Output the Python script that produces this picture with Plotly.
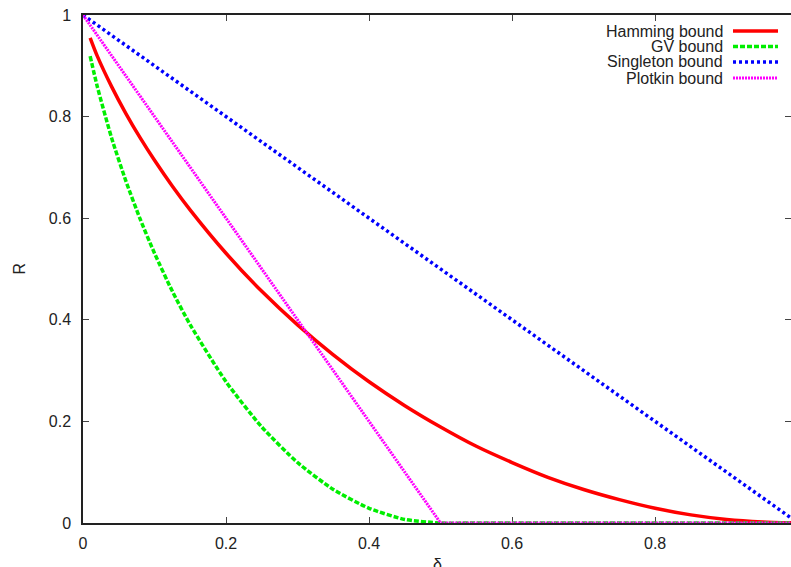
import plotly.graph_objects as go

# ---- data ----
delta = [0.01, 0.02, 0.04, 0.06, 0.08, 0.10, 0.125, 0.15, 0.20, 0.25, 0.30, 0.35,
         0.40, 0.45, 0.50, 0.55, 0.60, 0.65, 0.70, 0.75, 0.80, 0.85, 0.90, 0.95, 0.99]
hamming = [0.955, 0.919, 0.859, 0.806, 0.758, 0.714, 0.663, 0.616, 0.531, 0.456, 0.390, 0.331,
           0.278, 0.231, 0.189, 0.151, 0.119, 0.090, 0.066, 0.046, 0.029, 0.016, 0.007, 0.002, 0.0003]
gv = [0.919, 0.859, 0.758, 0.673, 0.598, 0.531, 0.456, 0.390, 0.278, 0.189, 0.119, 0.066,
      0.029, 0.007, 0.0, 0.0, 0.0, 0.0, 0.0, 0.0, 0.0, 0.0, 0.0, 0.0, 0.0]
singleton_x = [0.0, 0.99]
singleton_y = [1.0, 0.01]
plotkin_x = [0.0, 0.5, 0.99]
plotkin_y = [1.0, 0.0, 0.0]

series_names = ["Hamming bound", "GV bound", "Singleton bound", "Plotkin bound"]
x_ticks = [0, 0.2, 0.4, 0.6, 0.8]
x_tick_labels = ["0", "0.2", "0.4", "0.6", "0.8"]
y_ticks = [0, 0.2, 0.4, 0.6, 0.8, 1]
y_tick_labels = ["0", "0.2", "0.4", "0.6", "0.8", "1"]
x_title = "δ"
y_title = "R"

# ---- layout / styles ----
W, H = 791, 567
# plot box in page pixels: left 83, top 15, right 791, bottom 523
ML, MT, MR, MB = 83, 15, 0, 44
FONT = "Liberation Sans, Arial, Helvetica, sans-serif"
FS = 16
TXT = "#222222"
styles = [
    dict(color="#ff0000", width=3.5, dash="solid"),
    dict(color="#00ee00", width=3.5, dash="5px,2px"),
    dict(color="#0000ff", width=3.5, dash="3px,3px"),
    dict(color="#ff00ff", width=3, dash="2px,1px"),
]

fig = go.Figure()
fig.add_trace(go.Scatter(x=delta, y=hamming, mode="lines", name=series_names[0],
                         line=dict(**styles[0], shape="spline", smoothing=0.8)))
fig.add_trace(go.Scatter(x=delta, y=gv, mode="lines", name=series_names[1],
                         line=dict(**styles[1], shape="spline", smoothing=0.6)))
fig.add_trace(go.Scatter(x=singleton_x, y=singleton_y, mode="lines", name=series_names[2],
                         line=styles[2]))
fig.add_trace(go.Scatter(x=plotkin_x, y=plotkin_y, mode="lines", name=series_names[3],
                         line=styles[3]))

# page pixel -> paper conversion for decorations
pw, ph = W - ML - MR, H - MT - MB
def px2paper(px, py):
    return (px - ML) / pw, (H - MB - py) / ph

# manual legend (text right-aligned, sample line on the right)
legend_rows = [31, 46.5, 62, 78]
shapes, annotations = [], []
for name, st, ry in zip(series_names, styles, legend_rows):
    tx, ty = px2paper(725, ry)
    annotations.append(dict(x=tx, y=ty, xref="paper", yref="paper", text=name,
                            showarrow=False, xanchor="right", yanchor="middle",
                            font=dict(family=FONT, size=FS, color=TXT)))
    x0, y0 = px2paper(733, ry)
    x1, _ = px2paper(778, ry)
    shapes.append(dict(type="line", xref="paper", yref="paper", x0=x0, x1=x1, y0=y0, y1=y0,
                       line=dict(color=st["color"], width=st["width"], dash=st["dash"])))

# axis titles placed as annotations
rx, ry_ = px2paper(18.5, 269)
annotations.append(dict(x=rx, y=ry_, xref="paper", yref="paper", text=y_title, textangle=-90,
                        showarrow=False, xanchor="center", yanchor="middle",
                        font=dict(family=FONT, size=FS, color=TXT)))
dx, dy = px2paper(438, 564)
annotations.append(dict(x=dx, y=dy, xref="paper", yref="paper", text=x_title,
                        showarrow=False, xanchor="center", yanchor="middle",
                        font=dict(family=FONT, size=FS, color=TXT)))

axis_common = dict(showline=True, linecolor="#222222", linewidth=1.5, mirror="ticks",
                   ticks="inside", ticklen=6, tickwidth=1, tickcolor="#444444",
                   showgrid=False, zeroline=False, automargin=False,
                   ticklabeloverflow="allow",
                   tickfont=dict(family=FONT, size=FS, color=TXT))

fig.update_layout(
    width=W, height=H,
    margin=dict(l=ML, r=MR, t=MT, b=MB, autoexpand=False),
    paper_bgcolor="white", plot_bgcolor="white",
    showlegend=False,
    shapes=shapes, annotations=annotations,
    xaxis=dict(range=[0, 0.99], tickvals=x_ticks, ticktext=x_tick_labels,
               ticklabelstandoff=5, layer="below traces", **axis_common),
    yaxis=dict(range=[0, 1], tickvals=y_ticks, ticktext=y_tick_labels,
               ticklabelstandoff=7, layer="below traces", **axis_common),
)

page_fix = ("document.documentElement.style.margin='0';"
            "document.documentElement.style.overflow='hidden';"
            "document.body.style.margin='0';"
            "document.body.style.overflow='hidden';")
fig.write_html("out.html", post_script=page_fix, config={"displayModeBar": False})
